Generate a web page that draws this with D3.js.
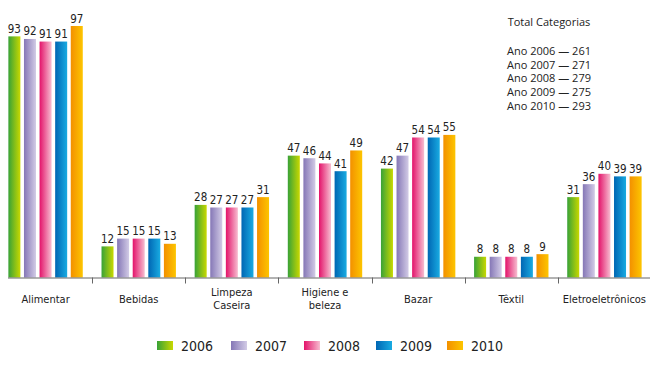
<!DOCTYPE html>
<html>
<head>
<meta charset="utf-8">
<script src="https://cdn.jsdelivr.net/npm/d3@7"></script>
<style>
  html, body { margin:0; padding:0; background:#fff; }
  svg { display:block; }
  .num, .cat, .leg { font-family:"DejaVu Sans Condensed","DejaVu Sans",sans-serif; font-stretch:condensed; fill:#222; }
  .num { font-size:11.5px; }
  .cat { font-size:11px; }
  .leg { font-size:14px; }
  .tot { font-family:"Open Sans","Liberation Sans",sans-serif; font-size:11px; fill:#222; }
</style>
</head>
<body>
<div id="chart"></div>
<script>
/* ---- data ---- */
const CATEGORIES = ["Alimentar","Bebidas","Limpeza\nCaseira","Higiene e\nbeleza","Bazar","Têxtil","Eletroeletrônicos"];
const YEARS = ["2006","2007","2008","2009","2010"];
const V2006 = [93,12,28,47,42,8,31];
const V2007 = [92,15,27,46,47,8,36];
const V2008 = [91,15,27,44,54,8,40];
const V2009 = [91,15,27,41,54,8,39];
const V2010 = [97,13,31,49,55,9,39];
const SERIES = [V2006, V2007, V2008, V2009, V2010];
const TOTALS = [261,271,279,275,293];

// left -> right gradient stops per year
const GRAD = [
  ["#38a237","#c8d800"],
  ["#8577b6","#d2cbe6"],
  ["#e3136a","#f7bdd0"],
  ["#0066b3","#19abe2"],
  ["#f39000","#fdc500"]
];

const W = 650, H = 368, BASE = 277.5;

const svg = d3.select("#chart").append("svg").attr("width", W).attr("height", H);
const defs = svg.append("defs");
YEARS.forEach((yr, i) => {
  const lg = defs.append("linearGradient").attr("id", "g" + yr)
    .attr("x1", 0).attr("x2", 1).attr("y1", 0).attr("y2", 0);
  lg.append("stop").attr("offset", "0%").attr("stop-color", GRAD[i][0]);
  lg.append("stop").attr("offset", "100%").attr("stop-color", GRAD[i][1]);
});

const x = d3.scaleBand().domain(CATEGORIES).range([-1, 651]);
const GROUP = 74.4;
const x1 = d3.scaleBand().domain(YEARS).range([0, GROUP]).paddingInner(0.23);
const y = d3.scaleLinear().domain([0, 97]).range([BASE, 26]);

const rows = [];
CATEGORIES.forEach((c, ci) => YEARS.forEach((yr, yi) => rows.push({ c, yr, yi, v: SERIES[yi][ci] })));
const off = (x.bandwidth() - GROUP) / 2;

// bars
svg.append("g").selectAll("rect").data(rows).enter().append("rect")
  .attr("x", d => x(d.c) + off + x1(d.yr))
  .attr("y", d => y(d.v))
  .attr("width", x1.bandwidth())
  .attr("height", d => BASE - y(d.v))
  .attr("fill", d => `url(#g${d.yr})`);

// value labels
svg.append("g").selectAll("text").data(rows).enter().append("text")
  .attr("class", "num").attr("text-anchor", "middle")
  .attr("x", d => x(d.c) + off + x1(d.yr) + x1.bandwidth() / 2)
  .attr("y", d => y(d.v) - 3.5)
  .text(d => d.v);

// axis line + ticks between categories
const ax = svg.append("g").attr("stroke", "#666").attr("stroke-width", 1);
ax.append("line").attr("x1", 8).attr("x2", 650).attr("y1", BASE + 0.5).attr("y2", BASE + 0.5);
ax.selectAll("line.tk").data(CATEGORIES.slice(1)).enter().append("line").attr("class", "tk")
  .attr("x1", d => Math.round(x(d)) + 0.5).attr("x2", d => Math.round(x(d)) + 0.5)
  .attr("y1", BASE).attr("y2", BASE + 6);

// category labels
const cl = svg.append("g").selectAll("text").data(CATEGORIES).enter().append("text")
  .attr("class", "cat").attr("text-anchor", "middle")
  .attr("transform", d => `translate(${x(d) + x.bandwidth() / 2},0)`);
cl.each(function(d) {
  const lines = d.split("\n");
  const t = d3.select(this);
  const y0 = lines.length === 1 ? 303 : 296;
  lines.forEach((s, i) => t.append("tspan").attr("x", 0).attr("y", y0 + i * 12.5).text(s));
});

// legend
const LEGX = [157, 231, 304, 376, 447];
const lg = svg.append("g").selectAll("g").data(YEARS).enter().append("g")
  .attr("transform", (d, i) => `translate(${LEGX[i]},341)`);
lg.append("rect").attr("width", 16).attr("height", 9).attr("fill", d => `url(#g${d})`);
lg.append("text").attr("class", "leg").attr("x", 24).attr("y", 9.5).text(d => d);

// totals box
const tb = svg.append("g").attr("transform", "translate(549,0)");
tb.append("text").attr("class", "tot").attr("text-anchor", "middle").attr("y", 26).text("Total Categorias");
tb.selectAll("text.row").data(YEARS).enter().append("text")
  .attr("class", "tot row").attr("text-anchor", "middle")
  .attr("y", (d, i) => 55 + i * 13.7)
  .text((d, i) => `Ano ${d} — ${TOTALS[i]}`);
</script>
</body>
</html>
